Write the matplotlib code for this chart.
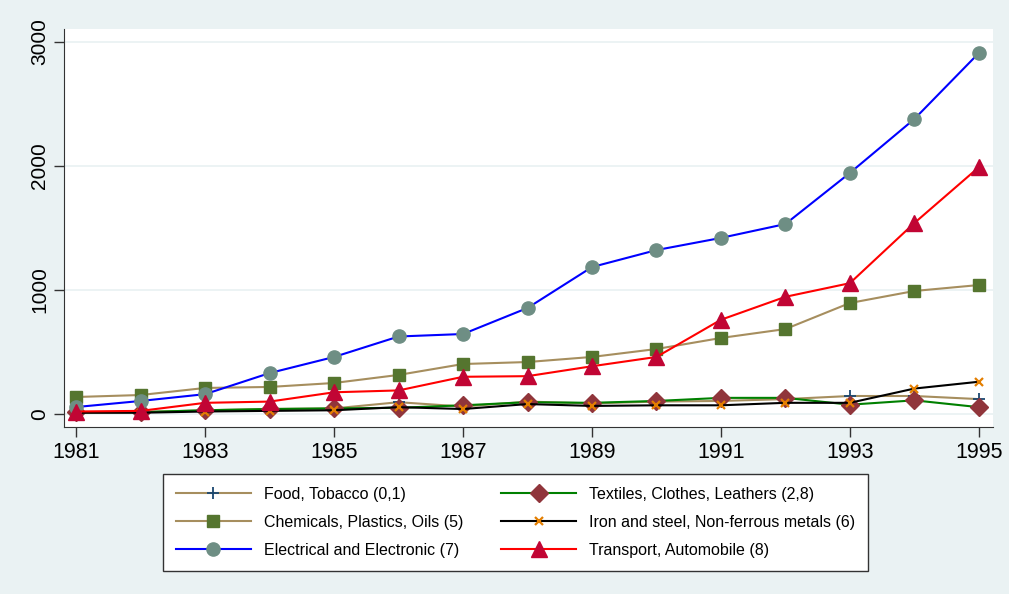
import matplotlib
matplotlib.use("Agg")
import matplotlib.pyplot as plt

years = list(range(1981, 1996))

food = [10, 15, 30, 40, 45, 95, 60, 100, 85, 100, 105, 120, 145, 145, 120]
textiles = [15, 15, 30, 40, 45, 50, 70, 95, 90, 105, 130, 130, 75, 110, 55]
chemicals = [137, 153, 210, 218, 250, 315, 403, 419, 460, 524, 613, 685, 895, 992, 1040]
iron = [10, 10, 20, 25, 30, 55, 40, 80, 65, 70, 70, 90, 90, 205, 260]
electrical = [56, 105, 160, 330, 460, 625, 645, 855, 1185, 1322, 1420, 1532, 1944, 2379, 2911]
transport = [20, 25, 90, 100, 175, 190, 300, 305, 385, 460, 760, 945, 1055, 1540, 1990]

labels = ["Food, Tobacco (0,1)", "Textiles, Clothes, Leathers (2,8)",
          "Chemicals, Plastics, Oils (5)", "Iron and steel, Non-ferrous metals (6)",
          "Electrical and Electronic (7)", "Transport, Automobile (8)"]

plt.rcParams['font.family'] = ['Liberation Sans', 'DejaVu Sans']

bg = '#EAF2F3'
fig = plt.figure(figsize=(10.09, 5.94), dpi=100, facecolor=bg)
ax = fig.add_axes([64 / 1009, 1 - 427 / 594, (993 - 64) / 1009, (427 - 29) / 594])
ax.set_facecolor('white')

series = [
    (food, '#A68E5E', '+', '#1A476F', 9, 1.3),
    (textiles, '#008000', 'D', '#90353B', 9, 1),
    (chemicals, '#A68E5E', 's', '#55752F', 9, 1),
    (iron, 'black', 'x', '#E37E00', 5.5, 1.6),
    (electrical, '#0000FF', 'o', '#6E8E84', 9.5, 1),
    (transport, '#FF0000', '^', '#C10534', 11, 1),
]
handles = []
for (vals, lc, mk, mc, ms, mew), lab in zip(series, labels):
    h, = ax.plot(years, vals, color=lc, lw=1.5, marker=mk, markersize=ms,
                 markerfacecolor=mc, markeredgecolor=mc, markeredgewidth=mew,
                 label=lab)
    handles.append(h)

ax.set_xlim(1980.81, 1995.22)
ax.set_ylim(-105, 3105)
ax.set_xticks(range(1981, 1996, 2))
ax.set_yticks([0, 1000, 2000, 3000])
ax.set_yticklabels(['0', '1000', '2000', '3000'], rotation=90, va='center')
ax.tick_params(labelsize=15.5, length=7, color='#333333', width=1)
ax.tick_params(axis='y', labelsize=15)
ax.grid(axis='y', color=bg, lw=1.3)
ax.set_axisbelow(True)
for s in ['top', 'right']:
    ax.spines[s].set_visible(False)
for s in ['left', 'bottom']:
    ax.spines[s].set_color('#333333')

order = [0, 2, 4, 1, 3, 5]
leg = fig.legend([handles[i] for i in order], [labels[i] for i in order],
                 loc='upper left', bbox_to_anchor=(163 / 1009, 1 - 474 / 594),
                 borderaxespad=0, ncol=2, fontsize=11.5, frameon=True,
                 fancybox=False, edgecolor='#333333', framealpha=1,
                 handlelength=4.7, handletextpad=0.8, columnspacing=2.4,
                 labelspacing=0.82, borderpad=0.8)
leg.get_frame().set_linewidth(1)

fig.savefig('out.png', dpi=100, facecolor=bg)
